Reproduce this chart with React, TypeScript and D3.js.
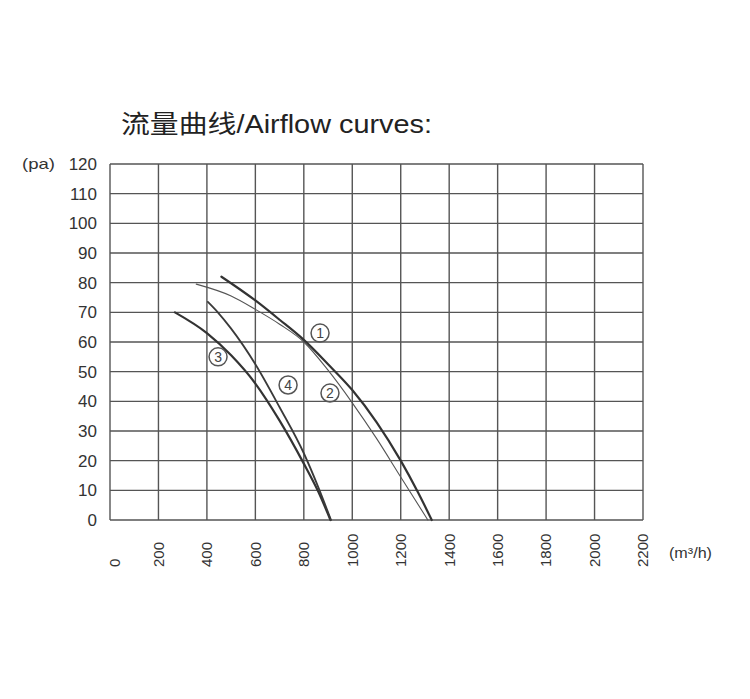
import React from 'react';
import * as d3 from 'd3';

// airflow (m³/h) ticks and pressure (pa) ticks
const xTicks = [0, 200, 400, 600, 800, 1000, 1200, 1400, 1600, 1800, 2000, 2200];
const yTicks = [0, 10, 20, 30, 40, 50, 60, 70, 80, 90, 100, 110, 120];

// curve ① (thick, outer)
const curve1Flow = [460, 600, 700, 800, 900, 1000, 1100, 1200, 1270, 1328];
const curve1Pa = [82, 74, 67.5, 60.7, 52.5, 43.8, 33, 20, 9.5, 0];
// curve ② (thin)
const curve2Flow = [356, 500, 600, 700, 800, 900, 1000, 1100, 1200, 1312];
const curve2Pa = [79.5, 75.5, 71, 66, 60, 50.5, 39.5, 27.5, 14.5, 0];
// curve ③
const curve3Flow = [268, 400, 500, 600, 700, 800, 860, 910];
const curve3Pa = [70, 63, 55.5, 46, 33.5, 19, 9.5, 0];
// curve ④
const curve4Flow = [404, 445, 500, 600, 700, 800, 860, 912];
const curve4Pa = [73.5, 70, 64.5, 52.5, 38, 22.5, 11, 0];

const curveNames = ['1', '2', '3', '4'];
const labelFlow = [867, 908, 446, 735];
const labelPa = [63, 42.8, 55, 45.5];
const circled = ['①', '②', '③', '④'];

const W = 750;
const H = 699;
const margin = { top: 164, right: 107, bottom: 179, left: 110 };

const App: React.FC = () => {
  const innerW = W - margin.left - margin.right;
  const innerH = H - margin.top - margin.bottom;

  const x = d3.scaleLinear().domain([0, 2200]).range([margin.left, margin.left + innerW]);
  const y = d3.scaleLinear().domain([0, 120]).range([margin.top + innerH, margin.top]);

  const line = d3
    .line<[number, number]>()
    .x(d => x(d[0]))
    .y(d => y(d[1]))
    .curve(d3.curveMonotoneX);

  const series = [
    { flow: curve1Flow, pa: curve1Pa, width: 2.2, color: '#333' },
    { flow: curve2Flow, pa: curve2Pa, width: 1.1, color: '#555' },
    { flow: curve3Flow, pa: curve3Pa, width: 2.2, color: '#333' },
    { flow: curve4Flow, pa: curve4Pa, width: 1.8, color: '#3a3a3a' },
  ];

  const gridColor = '#555';
  const font = '"Liberation Sans", Arial, "Noto Sans CJK SC", sans-serif';

  return (
    <svg
      width={W}
      height={H}
      style={{ position: 'absolute', left: 0, top: 0, background: '#fff' }}
      fontFamily={font}
    >
      <text
        x={121}
        y={133}
        fontSize={25}
        fill="#222"
        textLength={311}
        lengthAdjust="spacingAndGlyphs"
      >
        流量曲线/Airflow curves:
      </text>

      {/* grid */}
      {xTicks.map(t => (
        <line
          key={'gx' + t}
          x1={x(t)}
          x2={x(t)}
          y1={y(0)}
          y2={y(120)}
          stroke={gridColor}
          strokeWidth={1.4}
        />
      ))}
      {yTicks.map(t => (
        <line
          key={'gy' + t}
          x1={x(0)}
          x2={x(2200)}
          y1={y(t)}
          y2={y(t)}
          stroke={gridColor}
          strokeWidth={1.4}
        />
      ))}

      {/* y labels */}
      {yTicks.map(t => (
        <text
          key={'ty' + t}
          x={97}
          y={y(t)}
          dy="0.36em"
          textAnchor="end"
          fontSize={17}
          fill="#333"
        >
          {t}
        </text>
      ))}
      <text
        x={22}
        y={y(120)}
        dy="0.3em"
        fontSize={15}
        fill="#333"
        textLength={33}
        lengthAdjust="spacingAndGlyphs"
      >
        (pa)
      </text>

      {/* x labels, rotated */}
      {xTicks.map(t => (
        <text
          key={'tx' + t}
          transform={`translate(${x(t) + (t === 0 ? 5 : 0)},567) rotate(-90)`}
          dy="0.36em"
          textAnchor="start"
          fontSize={15}
          fill="#333"
        >
          {t}
        </text>
      ))}
      <text
        x={669}
        y={553}
        dy="0.36em"
        fontSize={15}
        fill="#333"
        textLength={43}
        lengthAdjust="spacingAndGlyphs"
      >
        (m³/h)
      </text>

      {/* curves */}
      {series.map((s, i) => (
        <path
          key={'c' + curveNames[i]}
          d={line(s.flow.map((f, j) => [f, s.pa[j]] as [number, number])) || ''}
          fill="none"
          stroke={s.color}
          strokeWidth={s.width}
          strokeLinecap="round"
        />
      ))}

      {/* circled labels */}
      {curveNames.map((n, i) => (
        <g key={'l' + n} transform={`translate(${x(labelFlow[i])},${y(labelPa[i])})`}>
          <circle r={9} fill="none" stroke="#555" strokeWidth={1.5} />
          <text
            textAnchor="middle"
            dy="0.36em"
            fontSize={14}
            fill="#444"
            aria-label={circled[i]}
          >
            {n}
          </text>
        </g>
      ))}
    </svg>
  );
};

export default App;
